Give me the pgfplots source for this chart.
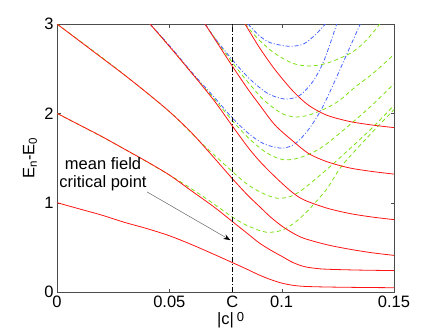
\documentclass[border=0pt]{standalone}
\usepackage{pgfplots}
\pgfplotsset{compat=1.18}
\usetikzlibrary{arrows.meta}
\usepackage{fontspec}
\setmainfont{Liberation Sans}
\definecolor{myred}{RGB}{255,20,20}
\definecolor{mygreen}{RGB}{125,225,20}
\definecolor{myblue}{RGB}{70,100,255}
\begin{document}
\begin{tikzpicture}
\path[use as bounding box] (0,0) rectangle (436pt,330pt);
\begin{axis}[
 at={(57pt,38pt)}, anchor=south west,
 scale only axis, width=337pt, height=268pt,
 xmin=0, xmax=0.15, ymin=0, ymax=3,
 xtick={0,0.05,0.078,0.1,0.15}, xticklabels={0,0.05,C,0.1,0.15},
 ytick={0,1,2,3},
 tick align=inside, major tick length=3.5pt,
 axis line style={black!70}, tick style={black!70},
 ticklabel style={font=\fontsize{16.5}{19}\selectfont},
 label style={font=\fontsize{16.5}{19}\selectfont},
 /pgf/number format/assume math mode=true,
 scaled x ticks=false,
 xlabel={|c|}, xlabel style={at={(axis description cs:0.5,-0.105)}, anchor=center},
 ylabel={E\textsubscript{n}-E\textsubscript{0}}, ylabel style={at={(axis description cs:-0.08,0.5)}, anchor=center},
 every axis plot/.append style={line width=0.8pt},
]
\pgfplotsset{gr/.style={mygreen, dash pattern=on 4pt off 3pt, smooth}}
\pgfplotsset{bl/.style={myblue, dash pattern=on 4pt off 2pt on 1pt off 2pt, smooth}}
% green dashed
\addplot[gr] coordinates {(0,2) (0.025,1.67) (0.05,1.31) (0.065,1.07) (0.078,0.84) (0.085,0.74) (0.093,0.67) (0.1,0.69) (0.106,0.78) (0.112,0.92) (0.12,1.15) (0.127,1.42) (0.14,1.78) (0.15,2.04)};
\addplot[gr] coordinates {(0,3) (0.025,2.53) (0.05,2.02) (0.065,1.65) (0.078,1.35) (0.085,1.2) (0.092,1.1) (0.098,1.05) (0.104,1.07) (0.11,1.16) (0.12,1.37) (0.128,1.55) (0.14,1.83) (0.15,2.09)};
\addplot[gr] coordinates {(0.0414,3) (0.05,2.75) (0.06,2.45) (0.07,2.16) (0.078,1.92) (0.085,1.73) (0.092,1.58) (0.097,1.51) (0.101,1.48) (0.106,1.49) (0.112,1.54) (0.1185,1.63) (0.1274,1.81) (0.1393,2.07) (0.15,2.33)};
\addplot[gr] coordinates {(0.0659,3) (0.07,2.85) (0.078,2.57) (0.085,2.35) (0.092,2.15) (0.1,2.0) (0.106,1.96) (0.112,1.98) (0.12,2.06) (0.126,2.15) (0.133,2.3) (0.1408,2.45) (0.15,2.66)};
\addplot[gr] coordinates {(0.0837,3) (0.09,2.82) (0.097,2.67) (0.105,2.56) (0.112,2.53) (0.12,2.56) (0.1304,2.67) (0.137,2.8) (0.1437,3)};
% blue dash-dot
\addplot[bl] coordinates {(0.0414,3) (0.05,2.76) (0.06,2.46) (0.07,2.18) (0.078,1.95) (0.085,1.78) (0.092,1.66) (0.1,1.61) (0.106,1.66) (0.112,1.82) (0.118,2.06) (0.124,2.38) (0.13,2.72) (0.135,3)};
\addplot[bl] coordinates {(0.0659,3) (0.07,2.85) (0.078,2.6) (0.086,2.38) (0.094,2.22) (0.1015,2.16) (0.108,2.2) (0.114,2.36) (0.119,2.6) (0.1245,3)};
\addplot[bl] coordinates {(0.085,3) (0.09,2.87) (0.095,2.79) (0.1037,2.75) (0.11,2.78) (0.115,2.88) (0.1195,3)};
% red solid
\addplot[myred, smooth] coordinates {(0,1) (0.01,0.93) (0.02,0.86) (0.03,0.78) (0.04,0.71) (0.05,0.63) (0.06,0.53) (0.07,0.42) (0.078,0.33) (0.085,0.25) (0.09,0.19) (0.095,0.14) (0.1,0.10) (0.105,0.075) (0.11,0.063) (0.12,0.056) (0.135,0.051) (0.15,0.048)};
\addplot[myred, smooth] coordinates {(0,2) (0.01,1.87) (0.02,1.74) (0.03,1.60) (0.04,1.46) (0.05,1.31) (0.06,1.13) (0.07,0.95) (0.078,0.79) (0.085,0.65) (0.09,0.55) (0.095,0.47) (0.1,0.40) (0.105,0.33) (0.11,0.285) (0.115,0.265) (0.12,0.255) (0.135,0.245) (0.15,0.24)};
\addplot[myred, smooth] coordinates {(0,3) (0.01,2.81) (0.02,2.62) (0.03,2.43) (0.04,2.23) (0.05,2.02) (0.06,1.78) (0.07,1.50) (0.078,1.27) (0.085,1.08) (0.09,0.96) (0.095,0.84) (0.1,0.74) (0.105,0.66) (0.11,0.60) (0.12,0.53) (0.13,0.48) (0.14,0.44) (0.15,0.41)};
\addplot[myred, smooth] coordinates {(0.0414,3) (0.05,2.75) (0.06,2.45) (0.07,2.14) (0.078,1.86) (0.085,1.62) (0.09,1.47) (0.095,1.34) (0.1,1.22) (0.105,1.11) (0.11,1.03) (0.12,0.94) (0.13,0.88) (0.14,0.84) (0.15,0.81)};
\addplot[myred, smooth] coordinates {(0.0659,3) (0.07,2.84) (0.078,2.53) (0.085,2.27) (0.09,2.10) (0.097,1.87) (0.105,1.69) (0.112,1.55) (0.12,1.46) (0.13,1.39) (0.14,1.35) (0.15,1.32)};
\addplot[myred, smooth] coordinates {(0.0837,3) (0.09,2.74) (0.097,2.49) (0.105,2.25) (0.112,2.09) (0.12,1.98) (0.13,1.91) (0.14,1.87) (0.15,1.84)};
% critical point line
\addplot[black, line width=0.6pt, dash pattern=on 5pt off 2pt on 1pt off 2pt] coordinates {(0.078,0) (0.078,3)};
\draw[black!60, line width=0.5pt, -{Stealth[length=7pt,width=5pt,black]}] (axis cs:0.0401,1.12) -- (axis cs:0.0772,0.58);
\node[font=\fontsize{16.5}{19}\selectfont] at (axis cs:0.0205,1.44) {mean field};
\node[font=\fontsize{16.5}{19}\selectfont] at (axis cs:0.0205,1.22) {critical point};
\end{axis}
\node[font=\fontsize{13}{15}\selectfont] at (240.5pt,13pt) {0};
\end{tikzpicture}
\end{document}
